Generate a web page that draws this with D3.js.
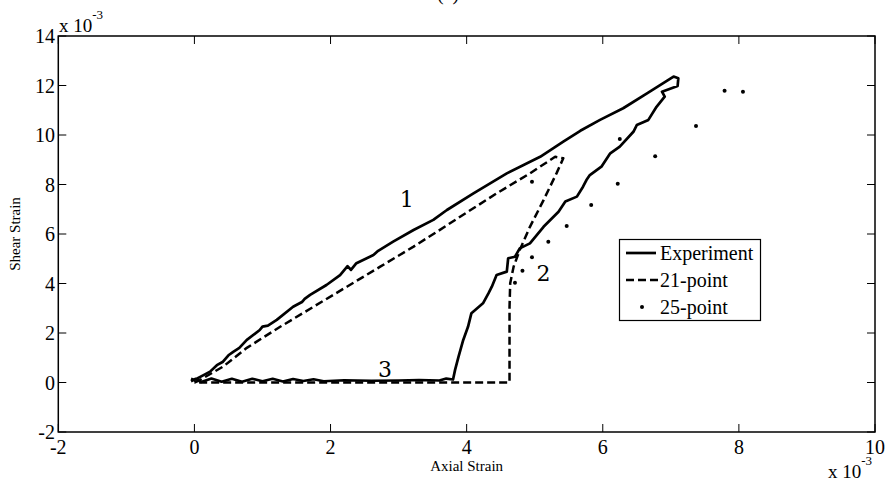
<!DOCTYPE html>
<html>
<head>
<meta charset="utf-8">
<script src="https://cdn.jsdelivr.net/npm/d3@7"></script>
<style>
html,body{margin:0;padding:0;background:#fff;}
svg{display:block;}
</style>
</head>
<body>
<svg id="chart" width="885" height="489"></svg>
<script>
// ---- data (strain values in units of 1e-3) ----
const xTicks = [-2, 0, 2, 4, 6, 8, 10];
const yTicks = [-2, 0, 2, 4, 6, 8, 10, 12, 14];

const experiment = [
  [-0.05,0.15],[0.0,0.10],[0.12,0.28],[0.23,0.44],[0.33,0.70],[0.42,0.84],[0.50,1.10],[0.57,1.24],[0.66,1.40],[0.77,1.72],
  [0.96,2.12],[1.00,2.26],[1.08,2.30],[1.21,2.53],[1.45,3.06],[1.58,3.25],[1.62,3.38],[1.70,3.54],[1.94,3.94],[2.14,4.34],
  [2.25,4.70],[2.30,4.55],[2.38,4.82],[2.63,5.15],[2.70,5.32],[2.92,5.69],[3.22,6.16],[3.51,6.57],[3.71,6.97],
  [4.10,7.64],[4.59,8.45],[5.08,9.12],[5.42,9.73],[5.67,10.17],[5.96,10.61],[6.30,11.08],
  [6.65,11.68],[7.04,12.36],[7.11,12.29],
  [7.10,11.98],[6.87,11.75],[6.91,11.55],[6.79,11.14],[6.67,10.61],[6.50,10.40],[6.45,10.13],
  [6.25,9.53],[6.11,9.26],[5.98,8.72],[5.81,8.38],[5.76,8.18],[5.71,7.91],[5.62,7.51],[5.45,7.31],
  [5.35,6.90],[5.13,6.29],[4.93,5.62],[4.78,5.42],[4.71,5.08],[4.61,5.02],[4.59,4.48],[4.44,4.34],
  [4.37,3.87],[4.32,3.60],[4.24,3.20],[4.07,2.80],[4.02,2.25],[3.95,1.72],[3.88,1.04],[3.83,0.51],
  [3.80,0.12],[3.70,0.16],[3.60,0.08],[3.30,0.10],[3.00,0.08],[2.60,0.07],[2.20,0.09],[1.90,0.05],
  [1.75,0.13],[1.60,0.06],[1.45,0.14],[1.30,0.04],[1.15,0.15],[1.00,0.05],[0.85,0.15],[0.70,0.03],
  [0.55,0.15],[0.40,0.03],[0.25,0.16],[0.10,0.02],[0.02,0.15],[-0.05,0.05]
];

const point21 = [
  [0.0,0.0],[0.08,0.10],[0.42,0.64],[0.77,1.40],[1.26,2.25],[1.75,3.06],[2.24,3.87],[2.73,4.68],
  [3.22,5.49],[3.58,6.12],[3.95,6.78],[4.44,7.64],[4.93,8.45],[5.30,9.12],[5.42,9.06],[5.32,8.45],
  [5.13,7.37],[4.93,6.29],[4.78,5.35],[4.69,4.68],[4.64,4.01],[4.63,3.06],[4.63,0.0],[0.0,0.0]
];

const point25 = [
  [8.06,11.75],[7.79,11.79],[7.37,10.36],[6.77,9.14],[6.25,9.84],[6.22,8.03],[5.83,7.17],
  [5.47,6.32],[5.20,5.69],[4.96,5.06],[4.82,4.52],[4.71,4.03],[4.96,8.11]
];

const legendLabels = ["Experiment", "21-point", "25-point"];
const curveLabels = [{t:"1", x:3.12, y:7.1},{t:"2", x:5.13, y:4.1},{t:"3", x:2.80, y:0.22}];

// ---- drawing ----
const svg = d3.select("#chart");
const L = 58.3, R = 875, T = 36, B = 432;
const x = d3.scaleLinear().domain([-2, 10]).range([L, R]);
const y = d3.scaleLinear().domain([-2, 14]).range([B, T]);
const serif = "'Liberation Serif','Times New Roman',serif";

// title (cropped at top)
svg.append("text").attr("x", 448).attr("y", 0).attr("text-anchor","middle")
  .attr("font-family", serif).attr("font-size", 20).text("(a)");

// axes box ticks (inward on all sides)
const tickLen = 8;
const axG = svg.append("g").attr("stroke","#000").attr("stroke-width",1);
xTicks.forEach(v => {
  axG.append("line").attr("x1",x(v)).attr("x2",x(v)).attr("y1",B).attr("y2",B-tickLen);
  axG.append("line").attr("x1",x(v)).attr("x2",x(v)).attr("y1",T).attr("y2",T+tickLen);
});
yTicks.forEach(v => {
  axG.append("line").attr("x1",L).attr("x2",L+tickLen).attr("y1",y(v)).attr("y2",y(v));
  axG.append("line").attr("x1",R).attr("x2",R-tickLen).attr("y1",y(v)).attr("y2",y(v));
});

// tick labels
svg.append("g").selectAll("text").data(xTicks).join("text")
  .attr("x", d => x(d)).attr("y", 454).attr("text-anchor","middle")
  .attr("font-family", serif).attr("font-size", 20).text(d => d);
svg.append("g").selectAll("text").data(yTicks).join("text")
  .attr("x", 55).attr("y", d => y(d)).attr("dy","0.35em").attr("text-anchor","end")
  .attr("font-family", serif).attr("font-size", 20).text(d => d);

// exponent labels
function expo(xp, yp){
  const t = svg.append("text").attr("x", xp).attr("y", yp).attr("font-family", serif).attr("font-size", 19);
  t.append("tspan").text("x 10");
  t.append("tspan").attr("dy", -13).attr("font-size", 13).text("-3");
}
expo(59, 32);
expo(828, 478);

// axis titles
svg.append("text").attr("x", x(4)).attr("y", 471).attr("text-anchor","middle")
  .attr("font-family", serif).attr("font-size", 15).text("Axial Strain");
svg.append("text").attr("transform","translate(20,234) rotate(-90)").attr("text-anchor","middle")
  .attr("font-family", serif).attr("font-size", 15).text("Shear Strain");

// curves
const line = d3.line().x(d => x(d[0])).y(d => y(d[1]));
const plot = svg.append("g");
plot.append("path").datum(point21).attr("d", line).attr("fill","none").attr("stroke","#000")
  .attr("stroke-width",2.5).attr("stroke-dasharray","8,4").attr("stroke-linejoin","round");
plot.append("path").datum(experiment).attr("d", line).attr("fill","none").attr("stroke","#000")
  .attr("stroke-width",2.7).attr("stroke-linejoin","round");
plot.selectAll("circle").data(point25).join("circle")
  .attr("cx", d => x(d[0])).attr("cy", d => y(d[1])).attr("r", 2).attr("fill","#000");

// curve labels
svg.append("g").selectAll("text").data(curveLabels).join("text")
  .attr("x", d => x(d.x)).attr("y", d => y(d.y)).attr("text-anchor","middle")
  .attr("font-family","'DejaVu Serif',serif").attr("font-size", 22).text(d => d.t);

// frame
svg.append("rect").attr("x",L).attr("y",T).attr("width",R-L).attr("height",B-T)
  .attr("fill","none").attr("stroke","#000").attr("stroke-width",1.5);

// legend
const lg = svg.append("g");
lg.append("rect").attr("x",619.5).attr("y",239.5).attr("width",141).attr("height",81)
  .attr("fill","#fff").attr("stroke","#000").attr("stroke-width",1.2);
const rows = [253, 280, 307];
lg.append("line").attr("x1",626).attr("x2",656).attr("y1",rows[0]).attr("y2",rows[0])
  .attr("stroke","#000").attr("stroke-width",2.7);
lg.append("line").attr("x1",626).attr("x2",658).attr("y1",rows[1]).attr("y2",rows[1])
  .attr("stroke","#000").attr("stroke-width",2.5).attr("stroke-dasharray","8,4");
lg.append("circle").attr("cx",642).attr("cy",rows[2]).attr("r",2).attr("fill","#000");
lg.selectAll("text").data(legendLabels).join("text")
  .attr("x",660).attr("y",(d,i)=>rows[i]).attr("dy","0.35em")
  .attr("font-family", serif).attr("font-size", 20).text(d => d);
</script>
</body>
</html>
